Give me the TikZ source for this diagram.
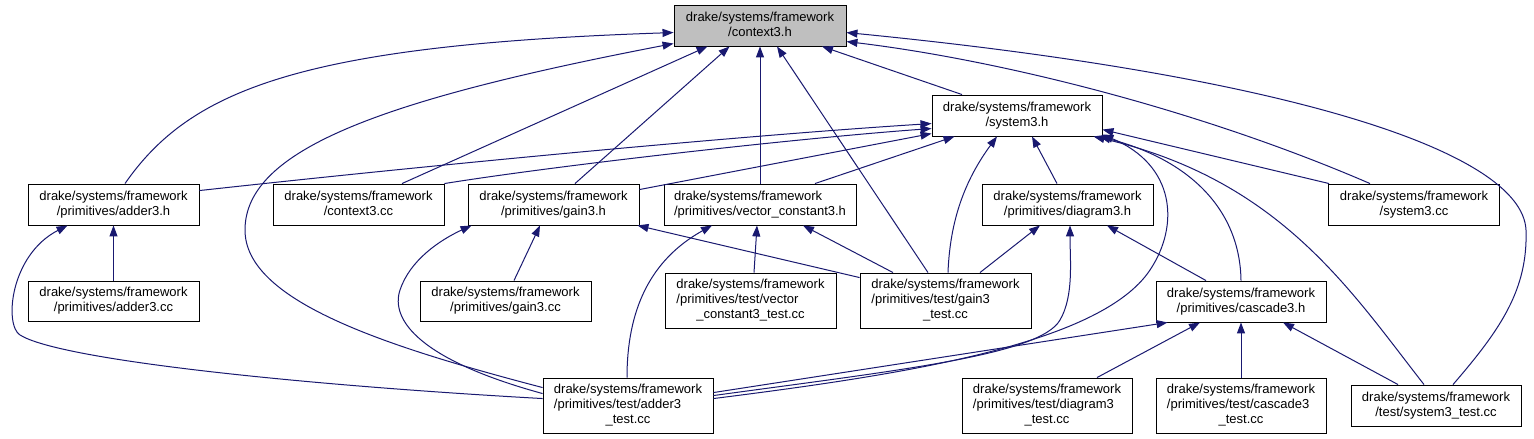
\documentclass[tikz,border=0pt]{standalone}
\usepackage{fontspec}
\setmainfont{Liberation Sans}
\usetikzlibrary{arrows.meta,calc}
\definecolor{edgeblue}{HTML}{191970}
\definecolor{hlgray}{HTML}{BFBFBF}
\newcommand{\twoL}[2]{\begin{tabular}{@{}l@{}}#1\\\multicolumn{1}{@{}c@{}}{#2}\end{tabular}}
\newcommand{\threeL}[3]{\begin{tabular}{@{}l@{}}#1\\#2\\\multicolumn{1}{@{}c@{}}{#3}\end{tabular}}
\begin{document}
\begin{tikzpicture}[x=1pt,y=-1pt,
  box/.style={draw=black, line width=0.9pt, fill=white, inner sep=0pt,
    font=\fontsize{13}{15}\selectfont, minimum height=41pt},
  tall/.style={minimum height=55pt},
  edge/.style={draw=edgeblue, line width=1pt, -{Triangle[length=11pt,width=8pt]}}]
\fill[white] (0,0) rectangle (1534,439);
\useasboundingbox (0,0) rectangle (1534,439);
% nodes
\node[box, minimum width=172pt, fill=hlgray] (ctx) at (760,25.5) {\twoL{drake/systems/framework}{/context3.h}};
\node[box, minimum width=170pt] (sys) at (1017,115.5) {\twoL{drake/systems/framework}{/system3.h}};
\node[box, minimum width=171pt] (adder3h) at (113.5,204.5) {\twoL{drake/systems/framework}{/primitives/adder3.h}};
\node[box, minimum width=171pt] (ctxcc) at (358.5,204.5) {\twoL{drake/systems/framework}{/context3.cc}};
\node[box, minimum width=171pt] (gain3h) at (553.5,204.5) {\twoL{drake/systems/framework}{/primitives/gain3.h}};
\node[box, minimum width=192pt] (vc3h) at (760,204.5) {\twoL{drake/systems/framework}{/primitives/vector\_constant3.h}};
\node[box, minimum width=171pt] (diag3h) at (1067.5,204.5) {\twoL{drake/systems/framework}{/primitives/diagram3.h}};
\node[box, minimum width=171pt] (sys3cc) at (1414,204.5) {\twoL{drake/systems/framework}{/system3.cc}};
\node[box, minimum width=171pt, minimum height=40pt] (adder3cc) at (113.5,301) {\twoL{drake/systems/framework}{/primitives/adder3.cc}};
\node[box, minimum width=171pt, minimum height=40pt] (gain3cc) at (505.5,301) {\twoL{drake/systems/framework}{/primitives/gain3.cc}};
\node[box, tall, minimum width=171pt] (vc3test) at (750.5,300.5) {\threeL{drake/systems/framework}{/primitives/test/vector}{\_constant3\_test.cc}};
\node[box, tall, minimum width=171pt] (gain3test) at (945.5,300.5) {\threeL{drake/systems/framework}{/primitives/test/gain3}{\_test.cc}};
\node[box, minimum width=170pt] (casc3h) at (1241,301.5) {\twoL{drake/systems/framework}{/primitives/cascade3.h}};
\node[box, tall, minimum width=170pt] (adder3test) at (628,405.5) {\threeL{drake/systems/framework}{/primitives/test/adder3}{\_test.cc}};
\node[box, tall, minimum width=170pt] (diag3test) at (1047,405.5) {\threeL{drake/systems/framework}{/primitives/test/diagram3}{\_test.cc}};
\node[box, tall, minimum width=170pt] (casc3test) at (1241,405.5) {\threeL{drake/systems/framework}{/primitives/test/cascade3}{\_test.cc}};
\node[box, minimum width=170pt] (sys3test) at (1436,405.5) {\twoL{drake/systems/framework}{/test/system3\_test.cc}};
% into context3.h
\draw[edge] ($(adder3h.north)+(11.5,0)$) .. controls (190,90) and (300,45) .. ($(ctx.north west)+(0,28)$);
\draw[edge] ($(adder3test.north west)+(0,10)$) .. controls (380,345) and (245,300) .. (245,230) .. controls (245,150) and (380,100) .. ($(ctx.north west)+(0,39)$);
\draw[edge] ($(ctxcc.north)+(43.5,0)$) -- ($(ctx.south west)+(34,0)$);
\draw[edge] ($(gain3h.north)+(21.5,0)$) -- ($(ctx.south west)+(56,0)$);
\draw[edge] (vc3h.north) -- (ctx.south);
\draw[edge] ($(gain3test.north)+(-17.5,0)$) -- ($(ctx.south)+(17,0)$);
\draw[edge] ($(sys.north)+(-55,0)$) -- ($(ctx.south)+(62,0)$);
\draw[edge] ($(sys3cc.north)+(-44,0)$) .. controls (1200,110) and (1000,60) .. ($(ctx.north east)+(0,37)$);
\draw[edge] ($(sys3test.north)+(17,0)$) .. controls (1500,330) and (1528,290) .. (1526,230) .. controls (1522,150) and (1280,75) .. ($(ctx.north east)+(0,28)$);
% into system3.h
\draw[edge] ($(adder3h.north east)+(0,7)$) .. controls (450,163) and (750,135) .. ($(sys.north west)+(0,29)$);
\draw[edge] (ctxcc.north east) .. controls (560,165) and (800,138) .. ($(sys.north west)+(0,34)$);
\draw[edge] ($(gain3h.north east)+(0,6)$) -- ($(sys.north west)+(0,39)$);
\draw[edge] ($(vc3h.north)+(55,0)$) -- ($(sys.south west)+(23,0)$);
\draw[edge] ($(gain3test.north)+(2.5,0)$) .. controls (950,220) and (965,180) .. ($(sys.south)+(-20,0)$);
\draw[edge] ($(diag3h.north)+(-10.5,0)$) -- ($(sys.south)+(15,0)$);
\draw[edge] ($(sys3cc.north west)+(1,0)$) -- ($(sys.north east)+(0,35)$);
\draw[edge] ($(adder3test.north east)+(0,21)$) .. controls (900,375) and (1100,345) .. (1150,270) .. controls (1180,225) and (1175,165) .. ($(sys.north east)+(0,40)$);
\draw[edge] (casc3h.north) .. controls (1240,210) and (1190,160) .. ($(sys.south east)+(-3,0)$);
\draw[edge] ($(sys3test.north)+(-12,0)$) .. controls (1350,290) and (1280,180) .. ($(sys.south east)+(-9,0)$);
% into adder3.h
\draw[edge] (adder3cc.north) -- (adder3h.south);
\draw[edge] ($(adder3test.north west)+(0,21)$) .. controls (300,385) and (60,360) .. (20,335) .. controls (4,325) and (10,255) .. ($(adder3h.south west)+(40,0)$);
% into gain3.h
\draw[edge] ($(gain3cc.north)+(8.5,0)$) -- ($(gain3h.south)+(-13.5,0)$);
\draw[edge] ($(gain3test.north west)+(0,5)$) -- ($(gain3h.south east)+(-2,0)$);
\draw[edge] ($(adder3test.north west)+(0,16)$) .. controls (420,360) and (390,320) .. (400,290) .. controls (410,260) and (440,240) .. ($(gain3h.south west)+(4,0)$);
% into vector_constant3.h
\draw[edge] ($(vc3test.north)+(3.5,0)$) -- ($(vc3h.south)+(-3,0)$);
\draw[edge] ($(gain3test.north)+(-52.5,0)$) -- ($(vc3h.south)+(43,0)$);
\draw[edge] ($(adder3test.north)+(-1,0)$) .. controls (627,310) and (650,260) .. ($(vc3h.south)+(-48,0)$);
% into diagram3.h
\draw[edge] ($(gain3test.north)+(34.5,0)$) -- ($(diag3h.south)+(-27.5,0)$);
\draw[edge] ($(casc3h.north)+(-35,0)$) -- ($(diag3h.south)+(39.5,0)$);
\draw[edge] ($(adder3test.north east)+(0,18)$) .. controls (900,370) and (1040,355) .. (1060,320) .. controls (1074,296) and (1070,260) .. ($(diag3h.south)+(2.5,0)$);
% into cascade3.h
\draw[edge] ($(adder3test.north east)+(0,15)$) -- ($(casc3h.south west)+(12,0)$);
\draw[edge] ($(diag3test.north)+(50,0)$) -- ($(casc3h.south)+(-41,0)$);
\draw[edge] (casc3test.north) -- (casc3h.south);
\draw[edge] ($(sys3test.north)+(-38,0)$) -- ($(casc3h.south)+(42,0)$);
\end{tikzpicture}
\end{document}
